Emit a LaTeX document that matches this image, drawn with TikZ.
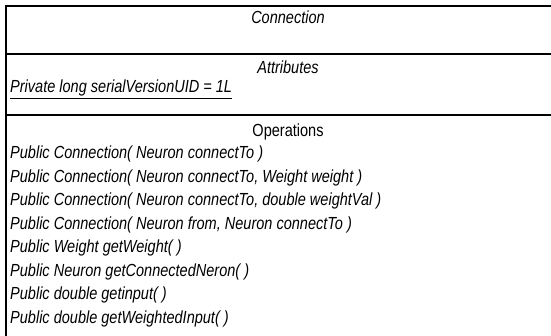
\documentclass[tikz,border=0pt]{standalone}
\usepackage{fontspec}
\setmainfont{Liberation Sans}[FakeStretch=0.83]
\usetikzlibrary{positioning}
\tikzset {
  % lines of the class box
  box line/.style = {
    draw = black,
    line width = 2pt
  },
  % centred compartment heading
  heading/.style = {
    inner sep = 0,
    anchor = base,
    font = \fontsize{17.5}{20}\selectfont
  },
  % class name
  title/.style = {
    heading,
    font = \fontsize{17.5}{20}\selectfont\itshape
  },
  % one attribute or operation line
  member/.style = {
    inner sep = 0,
    anchor = base west,
    font = \fontsize{17.5}{20}\selectfont\itshape
  },
  node distance = 23.5pt
}
\begin{document}
\begin{tikzpicture}[x=1pt, y=-1pt]
    \useasboundingbox (0,0) rectangle (551,336);
    \clip (0,0) rectangle (551,336);

    \coordinate (top-left) at (6,6);
    \coordinate (top-right) at (580,6);
    \coordinate (bottom-left) at (6,345);
    \coordinate (attr-left) at (6,54);
    \coordinate (attr-right) at (580,54);
    \coordinate (ops-left) at (6,115);
    \coordinate (ops-right) at (580,115);

    \draw[box line] (bottom-left) -- (top-left) -- (top-right);
    \draw[box line] (attr-left) -- (attr-right);
    \draw[box line] (ops-left) -- (ops-right);

    \node[title] (name) at (288,24) {Connection};
    \node[title] (attr) at (288,74) {Attributes};
    \node[member] (uid) at (10,93) {\underline{Private long serialVersionUID = 1L}};
    \node[heading] (ops) at (288,136.5) {Operations};

    \node[member] (ctor1) at (10,159) {Public Connection( Neuron connectTo )};
    \node[member] (ctor2) [below=of ctor1.base west, anchor=base west]
      {Public Connection( Neuron connectTo, Weight weight )};
    \node[member] (ctor3) [below=of ctor2.base west, anchor=base west]
      {Public Connection( Neuron connectTo, double weightVal )};
    \node[member] (ctor4) [below=of ctor3.base west, anchor=base west]
      {Public Connection( Neuron from, Neuron connectTo )};
    \node[member] (weight) [below=of ctor4.base west, anchor=base west]
      {Public Weight getWeight( )};
    \node[member] (target) [below=of weight.base west, anchor=base west]
      {Public Neuron getConnectedNeron( )};
    \node[member] (input) [below=of target.base west, anchor=base west]
      {Public double getinput( )};
    \node[member] (winput) [below=of input.base west, anchor=base west]
      {Public double getWeightedInput( )};
  \end{tikzpicture}
\end{document}
